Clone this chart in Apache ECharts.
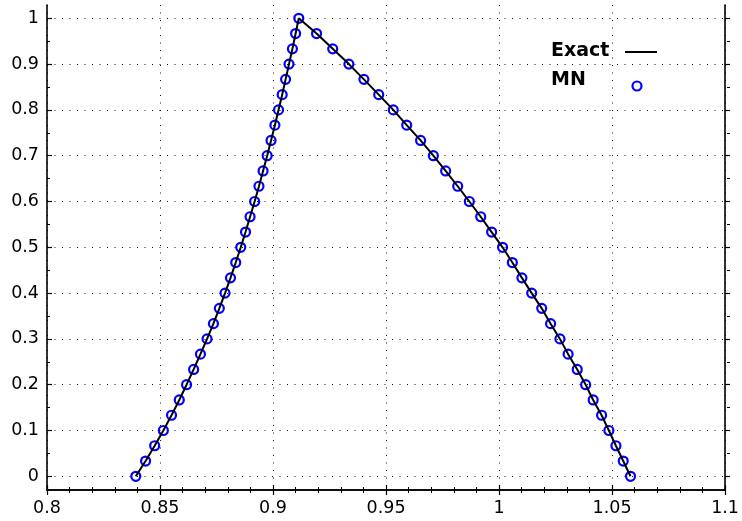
<!DOCTYPE html>
<html>
<head>
<meta charset="utf-8">
<script src="https://cdn.jsdelivr.net/npm/echarts@6/dist/echarts.min.js"></script>
<style>
  html, body { margin: 0; padding: 0; background: #fff; }
  #main { width: 742px; height: 521px; }
</style>
</head>
<body>
<div id="main"></div>
<script>
// rising branch, y from 0 up to 1
var yUp = [0, 0.0333, 0.0667, 0.1, 0.1333, 0.1667, 0.2, 0.2333, 0.2667, 0.3, 0.3333,
    0.3667, 0.4, 0.4333, 0.4667, 0.5, 0.5333, 0.5667, 0.6, 0.6333, 0.6667,
    0.7, 0.7333, 0.7667, 0.8, 0.8333, 0.8667, 0.9, 0.9333, 0.9667, 1];
var xUp = [0.8390, 0.8433, 0.8473, 0.8511, 0.8547, 0.8581, 0.8613, 0.8644, 0.8674, 0.8703, 0.8731,
    0.8757, 0.8782, 0.8806, 0.8829, 0.8851, 0.8872, 0.8892, 0.8912, 0.8931, 0.8949,
    0.8967, 0.8984, 0.9001, 0.9017, 0.9033, 0.9048, 0.9063, 0.9078, 0.9092, 0.9106];
// falling branch, y from 0.9667 down to 0
var yDown = [0.9667, 0.9333, 0.9, 0.8667, 0.8333, 0.8, 0.7667, 0.7333, 0.7, 0.6667,
    0.6333, 0.6, 0.5667, 0.5333, 0.5, 0.4667, 0.4333, 0.4, 0.3667, 0.3333,
    0.3, 0.2667, 0.2333, 0.2, 0.1667, 0.1333, 0.1, 0.0667, 0.0333, 0];
var xDown = [0.9184, 0.9255, 0.9326, 0.9392, 0.9457, 0.9521, 0.9580, 0.9641, 0.9697, 0.9751,
    0.9804, 0.9855, 0.9905, 0.9953, 1.0001, 1.0044, 1.0086, 1.0129, 1.0173, 1.0212,
    1.0253, 1.0289, 1.0329, 1.0366, 1.0399, 1.0436, 1.0468, 1.0499, 1.0531, 1.0563];
var xTicks = [0.8, 0.85, 0.9, 0.95, 1, 1.05, 1.1];
var yTicks = [0, 0.1, 0.2, 0.3, 0.4, 0.5, 0.6, 0.7, 0.8, 0.9, 1];

var pts = [];
xUp.forEach(function(x, i) { pts.push([x, yUp[i]]); });
xDown.forEach(function(x, i) { pts.push([x, yDown[i]]); });

var FONT = 'DejaVu Sans';
var dotted = { show: true, lineStyle: { color: '#111', width: 1, type: [1, 6.5] } };
var axLine = { show: true, lineStyle: { color: '#000', width: 1.6 } };
var tick = { show: true, inside: true, length: 5, lineStyle: { color: '#000', width: 1.2 } };

var chart = echarts.init(document.getElementById('main'));
chart.setOption({
    animation: false,
    backgroundColor: '#fff',
    grid: [
        { left: 47, right: 12, top: 5, bottom: 31 },       // full frame
        { left: 47, right: 12, top: 18.3, bottom: 44.7 }  // y 0..1 data area
    ],
    xAxis: [
        {
            gridIndex: 0, type: 'value', position: 'bottom',
            min: xTicks[0], max: xTicks[xTicks.length - 1], interval: 0.05,
            axisLine: axLine, axisTick: tick,
            minorTick: { show: true, splitNumber: 5, length: 3, lineStyle: { color: '#000' } },
            splitLine: dotted,
            axisLabel: { color: '#000', fontFamily: FONT, fontSize: 17.5, margin: 9 }
        },
        {
            gridIndex: 0, type: 'value', position: 'top',
            min: xTicks[0], max: xTicks[xTicks.length - 1], interval: 0.05,
            axisLine: axLine, axisTick: tick,
            minorTick: { show: true, splitNumber: 5, length: 3, lineStyle: { color: '#000' } },
            splitLine: { show: false }, axisLabel: { show: false }
        },
        {
            gridIndex: 1, type: 'value', show: false,
            min: xTicks[0], max: xTicks[xTicks.length - 1]
        }
    ],
    yAxis: [
        {
            gridIndex: 0, type: 'value', position: 'left', min: 0, max: 1,
            axisLine: axLine, axisTick: { show: false }, axisLabel: { show: false },
            splitLine: { show: false }
        },
        {
            gridIndex: 0, type: 'value', position: 'right', min: 0, max: 1,
            axisLine: axLine, axisTick: { show: false }, axisLabel: { show: false },
            splitLine: { show: false }
        },
        {
            gridIndex: 1, type: 'value', position: 'left',
            min: yTicks[0], max: yTicks[yTicks.length - 1], interval: 0.1,
            axisLine: { show: false }, axisTick: tick,
            minorTick: { show: true, splitNumber: 2, length: 3, lineStyle: { color: '#000' } },
            splitLine: dotted,
            axisLabel: { color: '#000', fontFamily: FONT, fontSize: 17.5, margin: 8 }
        },
        {
            gridIndex: 1, type: 'value', position: 'right',
            min: yTicks[0], max: yTicks[yTicks.length - 1], interval: 0.1,
            axisLine: { show: false }, axisTick: tick,
            minorTick: { show: true, splitNumber: 2, length: 3, lineStyle: { color: '#000' } },
            splitLine: { show: false }, axisLabel: { show: false }
        }
    ],
    series: [
        {
            name: 'Exact', type: 'line', xAxisIndex: 2, yAxisIndex: 2,
            data: pts, showSymbol: false, symbol: 'none',
            lineStyle: { color: '#000', width: 2 }
        },
        {
            name: 'MN', type: 'scatter', xAxisIndex: 2, yAxisIndex: 2,
            data: pts, symbol: 'circle', symbolSize: 9,
            itemStyle: { color: 'rgba(0,0,0,0)', borderColor: '#0000ff', borderWidth: 2.2, opacity: 1 }
        }
    ],
    // legend drawn by hand: text on the left, key on the right
    graphic: [
        { type: 'text', left: 551, top: 42, style: { text: 'Exact', font: 'bold 19px "DejaVu Sans"', fill: '#000' } },
        { type: 'line', shape: { x1: 625, y1: 52, x2: 657, y2: 52 }, style: { stroke: '#000', lineWidth: 2 } },
        { type: 'text', left: 551, top: 71, style: { text: 'MN', font: 'bold 19px "DejaVu Sans"', fill: '#000' } },
        { type: 'circle', shape: { cx: 637, cy: 86, r: 4.5 }, style: { fill: 'none', stroke: '#0000ff', lineWidth: 2.2 } }
    ]
});
</script>
</body>
</html>
